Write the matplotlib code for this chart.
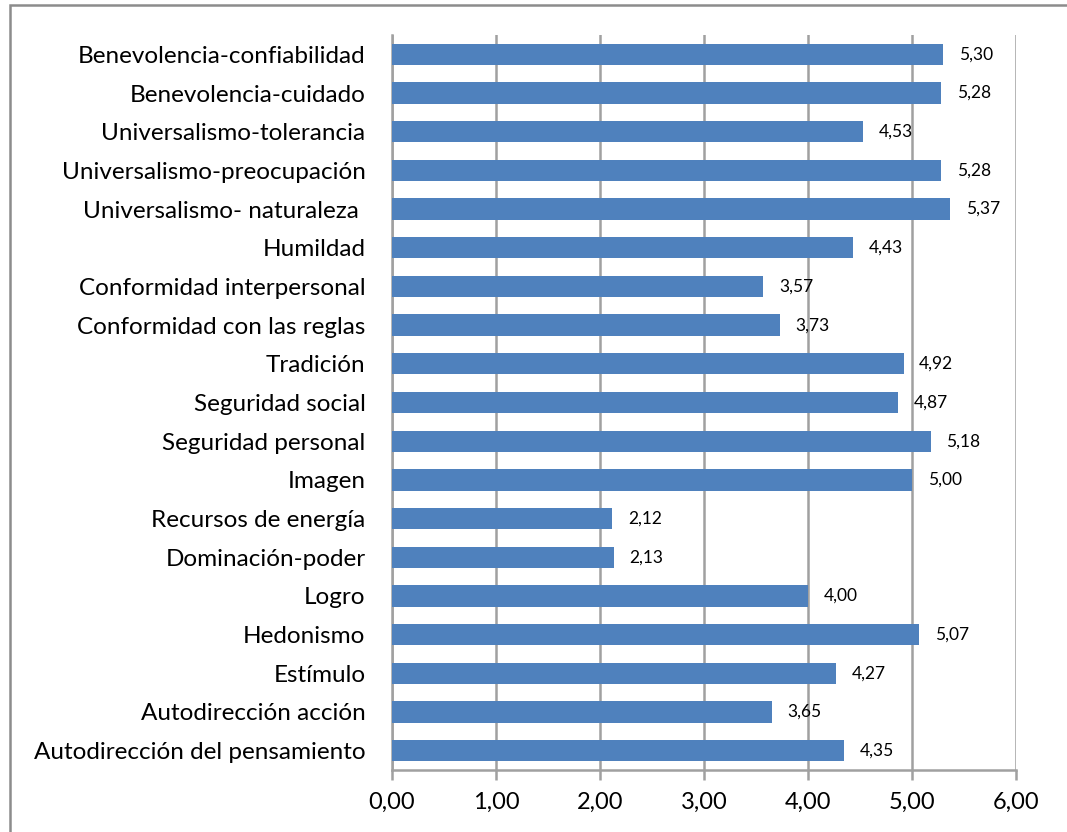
import matplotlib
matplotlib.use('Agg')
import matplotlib.pyplot as plt
from matplotlib.patches import Rectangle

plt.rcParams['font.family'] = ['Lato', 'DejaVu Sans']

# valores por tipo de valor (de arriba hacia abajo)
categorias = ['Benevolencia-confiabilidad', 'Benevolencia-cuidado', 'Universalismo-tolerancia',
              'Universalismo-preocupación', 'Universalismo- naturaleza ', 'Humildad',
              'Conformidad interpersonal', 'Conformidad con las reglas', 'Tradición',
              'Seguridad social', 'Seguridad personal', 'Imagen', 'Recursos de energía',
              'Dominación-poder', 'Logro', 'Hedonismo', 'Estímulo', 'Autodirección acción',
              'Autodirección del pensamiento']
valores = [5.30, 5.28, 4.53, 5.28, 5.37, 4.43, 3.57, 3.73, 4.92, 4.87, 5.18, 5.00,
           2.12, 2.13, 4.00, 5.07, 4.27, 3.65, 4.35]
ticks_x = [0, 1, 2, 3, 4, 5, 6]

fig = plt.figure(figsize=(10.67, 8.32), dpi=100)
ax = fig.add_axes([392 / 1067, 1 - 770 / 832, (1016 - 392) / 1067, (770 - 35) / 832])

pos = list(range(len(categorias)))
ax.barh(pos, valores, height=0.55, color='#4F81BD', zorder=3)
for p, v in zip(pos, valores):
    ax.text(v + 0.15, p, f'{v:.2f}'.replace('.', ','), va='center', ha='left', fontsize=12.5, zorder=4)

ax.set_ylim(len(categorias) - 0.5, -0.5)
ax.set_xlim(0, 6)
ax.set_yticks(pos)
ax.set_yticklabels(categorias, fontsize=17.5)
ax.set_xticks(ticks_x)
ax.set_xticklabels([f'{t:.2f}'.replace('.', ',') for t in ticks_x], fontsize=17)
ax.grid(axis='x', color='#A0A0A0', linewidth=1.8, zorder=0)
ax.tick_params(axis='y', length=0, pad=19)
ax.tick_params(axis='x', length=7, width=1.8, color='#A0A0A0', pad=9)
for s in ['top', 'right']:
    ax.spines[s].set_visible(False)
for s in ['left', 'bottom']:
    ax.spines[s].set_color('#A0A0A0')
    ax.spines[s].set_linewidth(1.8)

# marco del gráfico
fig.patches.append(Rectangle((10 / 1067, -0.1), 1.2, 1 - 5 / 832 + 0.1, transform=fig.transFigure,
                             fill=False, edgecolor='#8C8C8C', linewidth=1.8))

fig.savefig('out.png', dpi=100)
